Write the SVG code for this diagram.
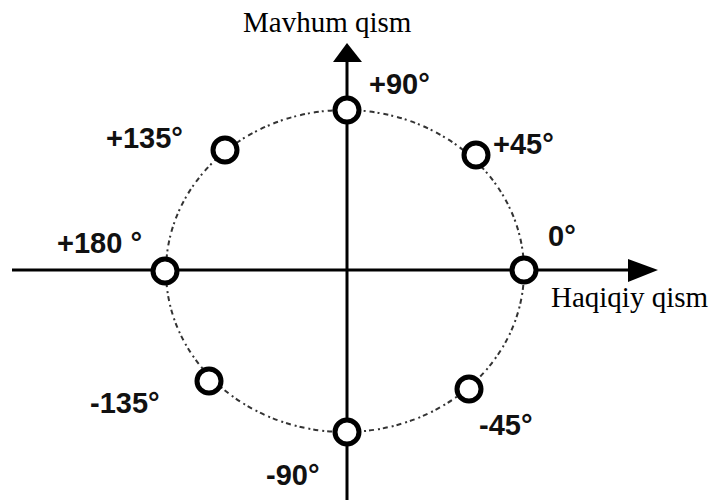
<svg xmlns="http://www.w3.org/2000/svg" width="712" height="500" viewBox="0 0 712 500">
<style>
.ax{stroke:#000;stroke-width:3;fill:none}
.arr{fill:#000}
.ring{fill:none;stroke:#333;stroke-width:2;stroke-dasharray:5 3 2 4}
.pt{fill:#fff;stroke:#000;stroke-width:5}
.lbl{font-family:"Liberation Sans",Arial,sans-serif;font-weight:bold;font-size:29px;fill:#111}
.ttl{font-family:"Liberation Serif","Times New Roman",serif;font-size:29px;fill:#000}
</style>
<rect width="712" height="500" fill="#fff"/>
<g id="connectors">
<ellipse class="ring" cx="345" cy="271" rx="179" ry="161"/>
<line class="ax" x1="12" y1="270" x2="632" y2="270"/>
<polygon class="arr" points="628,259 658,270 628,282"/>
<line class="ax" x1="347" y1="60" x2="347" y2="500"/>
<polygon class="arr" points="333,62 347,43 362,62"/>
</g>
<g id="axis-real"><text class="ttl" x="551" y="307">Haqiqiy qism</text></g>
<g id="axis-imag"><text class="ttl" x="243" y="32">Mavhum qism</text></g>
<g id="p0"><circle class="pt" cx="524" cy="270" r="12"/><text class="lbl" x="548" y="246">0°</text></g>
<g id="p45"><circle class="pt" cx="476" cy="155" r="12"/><text class="lbl" x="493" y="154">+45°</text></g>
<g id="p90"><circle class="pt" cx="347" cy="110" r="12"/><text class="lbl" x="369" y="94">+90°</text></g>
<g id="p135"><circle class="pt" cx="225" cy="150" r="12"/><text class="lbl" x="106" y="148">+135°</text></g>
<g id="p180"><circle class="pt" cx="165" cy="271" r="12"/><text class="lbl" x="57" y="253">+180 °</text></g>
<g id="pm135"><circle class="pt" cx="209" cy="381" r="12"/><text class="lbl" x="90" y="413">-135°</text></g>
<g id="pm90"><circle class="pt" cx="347" cy="432" r="12"/><text class="lbl" x="266" y="485">-90°</text></g>
<g id="pm45"><circle class="pt" cx="469" cy="389" r="12"/><text class="lbl" x="479" y="435">-45°</text></g>
</svg>
